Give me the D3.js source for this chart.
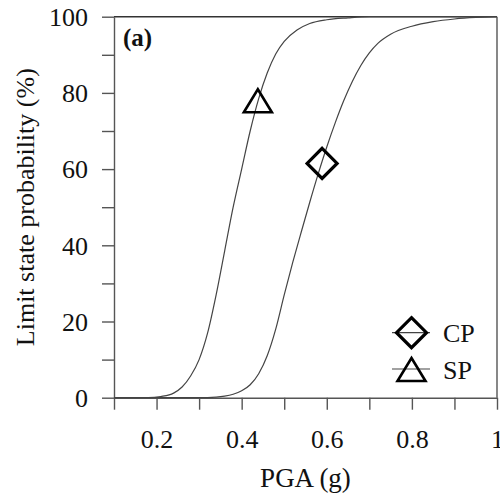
<!DOCTYPE html>
<html>
<head>
<meta charset="utf-8">
<script src="https://cdn.jsdelivr.net/npm/d3@7"></script>
<style>
  html, body { margin: 0; padding: 0; background: #fff; }
  svg { display: block; font-family: "Liberation Serif", "Times New Roman", serif; }
</style>
</head>
<body>
<svg id="chart"></svg>
<script>
// PGA (g) values and limit state probabilities (%)
const spPga  = [0.10, 0.18, 0.21, 0.24, 0.26, 0.28, 0.30, 0.32, 0.34, 0.36, 0.38, 0.40, 0.42, 0.44, 0.46, 0.48, 0.50, 0.53, 0.56, 0.60, 0.65, 0.70, 1.00];
const spProb = [0, 0, 0.3, 1.2, 2.8, 5.7, 10.0, 17.0, 27.0, 38.5, 50.0, 60.0, 70.0, 78.5, 85.2, 90.2, 93.5, 96.5, 98.2, 99.2, 99.7, 100, 100];

const cpPga  = [0.10, 0.30, 0.34, 0.36, 0.38, 0.40, 0.42, 0.44, 0.46, 0.48, 0.50, 0.52, 0.54, 0.56, 0.58, 0.60, 0.62, 0.64, 0.66, 0.68, 0.70, 0.72, 0.75, 0.80, 0.85, 0.90, 0.95, 1.00];
const cpProb = [0, 0, 0.15, 0.4, 0.9, 1.8, 3.4, 6.3, 11.0, 18.0, 27.0, 35.5, 43.5, 51.3, 58.8, 65.8, 72.2, 78.0, 83.0, 87.2, 90.5, 93.0, 95.4, 97.5, 98.7, 99.4, 99.8, 100];

// marker points on each curve
const markerPga  = { SP: 0.438, CP: 0.589 };
const markerProb = { SP: 77.8, CP: 61.5 };

const legendLabels = ['CP', 'SP'];
const xTicks = [0.1, 0.2, 0.3, 0.4, 0.5, 0.6, 0.7, 0.8, 0.9, 1.0];
const xTickLabels = [0.2, 0.4, 0.6, 0.8, 1.0];
const yTicks = [0, 10, 20, 30, 40, 50, 60, 70, 80, 90, 100];
const yTickLabels = [0, 20, 40, 60, 80, 100];

const width = 500;
const height = 502;
const margin = { top: 16.7, right: 3, bottom: 104.3, left: 114 };
const axisColor = '#555';
const textColor = '#111';

const svg = d3.select('#chart')
  .attr('width', width)
  .attr('height', height);

const x = d3.scaleLinear()
  .domain([0.1, 1.0])
  .range([margin.left, width - margin.right]);

const y = d3.scaleLinear()
  .domain([0, 100])
  .range([height - margin.bottom, margin.top]);

// frame: top and right
svg.append('line')
  .attr('x1', margin.left).attr('x2', width - margin.right)
  .attr('y1', y(100)).attr('y2', y(100))
  .attr('stroke', '#333').attr('stroke-width', 1.4);
svg.append('line')
  .attr('x1', x(1.0)).attr('x2', x(1.0))
  .attr('y1', y(100)).attr('y2', y(0))
  .attr('stroke', axisColor).attr('stroke-width', 1.4);

// x axis
const xAxis = svg.append('g')
  .attr('transform', `translate(0,${y(0)})`)
  .call(d3.axisBottom(x)
    .tickValues(xTicks)
    .tickSize(12)
    .tickSizeOuter(0)
    .tickFormat(d => xTickLabels.some(v => Math.abs(v - d) < 1e-9) ? d3.format('')(+d.toFixed(1)) : ''));
xAxis.select('.domain').attr('stroke', axisColor).attr('stroke-width', 1.4);
xAxis.selectAll('.tick line').attr('stroke', axisColor).attr('stroke-width', 1.4);
xAxis.selectAll('.tick text')
  .attr('y', 50.3)
  .attr('dy', 0)
  .attr('fill', textColor)
  .style('font-size', '26px')
  .style('font-family', '"Liberation Serif", serif');

// y axis
const yAxis = svg.append('g')
  .attr('transform', `translate(${margin.left},0)`)
  .call(d3.axisLeft(y)
    .tickValues(yTicks)
    .tickSize(12)
    .tickPadding(14)
    .tickSizeOuter(0)
    .tickFormat(d => yTickLabels.includes(d) ? d : ''));
yAxis.select('.domain').attr('stroke', axisColor).attr('stroke-width', 1.4);
yAxis.selectAll('.tick line').attr('stroke', axisColor).attr('stroke-width', 1.4);
yAxis.selectAll('.tick text')
  .attr('dy', '0.34em')
  .attr('fill', textColor)
  .style('font-size', '26px')
  .style('font-family', '"Liberation Serif", serif');

// axis titles
svg.append('text')
  .attr('x', (x(0.1) + x(1.0)) / 2)
  .attr('y', 487)
  .attr('text-anchor', 'middle')
  .attr('fill', textColor)
  .style('font-size', '27px')
  .text('PGA (g)');

svg.append('text')
  .attr('transform', `translate(34,${(y(0) + y(100)) / 2}) rotate(-90)`)
  .attr('text-anchor', 'middle')
  .attr('fill', textColor)
  .style('font-size', '26px')
  .text('Limit state probability (%)');

// panel label
svg.append('text')
  .attr('x', 123)
  .attr('y', 45.5)
  .attr('fill', textColor)
  .style('font-size', '25px')
  .style('font-weight', 'bold')
  .text('(a)');

// curves
const line = d3.line()
  .x(d => x(d[0]))
  .y(d => y(d[1]))
  .curve(d3.curveMonotoneX);

const curves = [
  { name: 'SP', pga: spPga, prob: spProb },
  { name: 'CP', pga: cpPga, prob: cpProb }
];

svg.selectAll('.curve')
  .data(curves)
  .enter()
  .append('path')
  .attr('class', 'curve')
  .attr('fill', 'none')
  .attr('stroke', '#444')
  .attr('stroke-width', 1.2)
  .attr('d', d => line(d3.zip(d.pga, d.prob)));

// marker shapes
const triangle = 'M0,-12L14,11L-14,11Z';
const diamond = 'M0,-15L15,0L0,15L-15,0Z';
const shapes = { SP: triangle, CP: diamond };
const strokeW = { SP: 2.6, CP: 3.2 };

['SP', 'CP'].forEach(k => {
  svg.append('path')
    .attr('d', shapes[k])
    .attr('transform', `translate(${x(markerPga[k])},${y(markerProb[k])})`)
    .attr('fill', 'none')
    .attr('stroke', '#000')
    .attr('stroke-width', strokeW[k])
    .attr('stroke-linejoin', 'miter');
});

// legend
const legend = svg.append('g').attr('transform', 'translate(411.5,332.7)');
legendLabels.forEach((k, i) => {
  const g = legend.append('g').attr('transform', `translate(0,${i * 37.3})`);
  g.append('line')
    .attr('x1', -19.5).attr('x2', 18.5)
    .attr('y1', k === 'SP' ? -1 : 0).attr('y2', k === 'SP' ? -1 : 0)
    .attr('stroke', '#444').attr('stroke-width', 1.2);
  g.append('path')
    .attr('d', shapes[k])
    .attr('fill', 'none')
    .attr('stroke', '#000')
    .attr('stroke-width', strokeW[k]);
  g.append('text')
    .attr('x', 31.5)
    .attr('y', 9)
    .attr('fill', textColor)
    .style('font-size', '26px')
    .text(k);
});
</script>
</body>
</html>
